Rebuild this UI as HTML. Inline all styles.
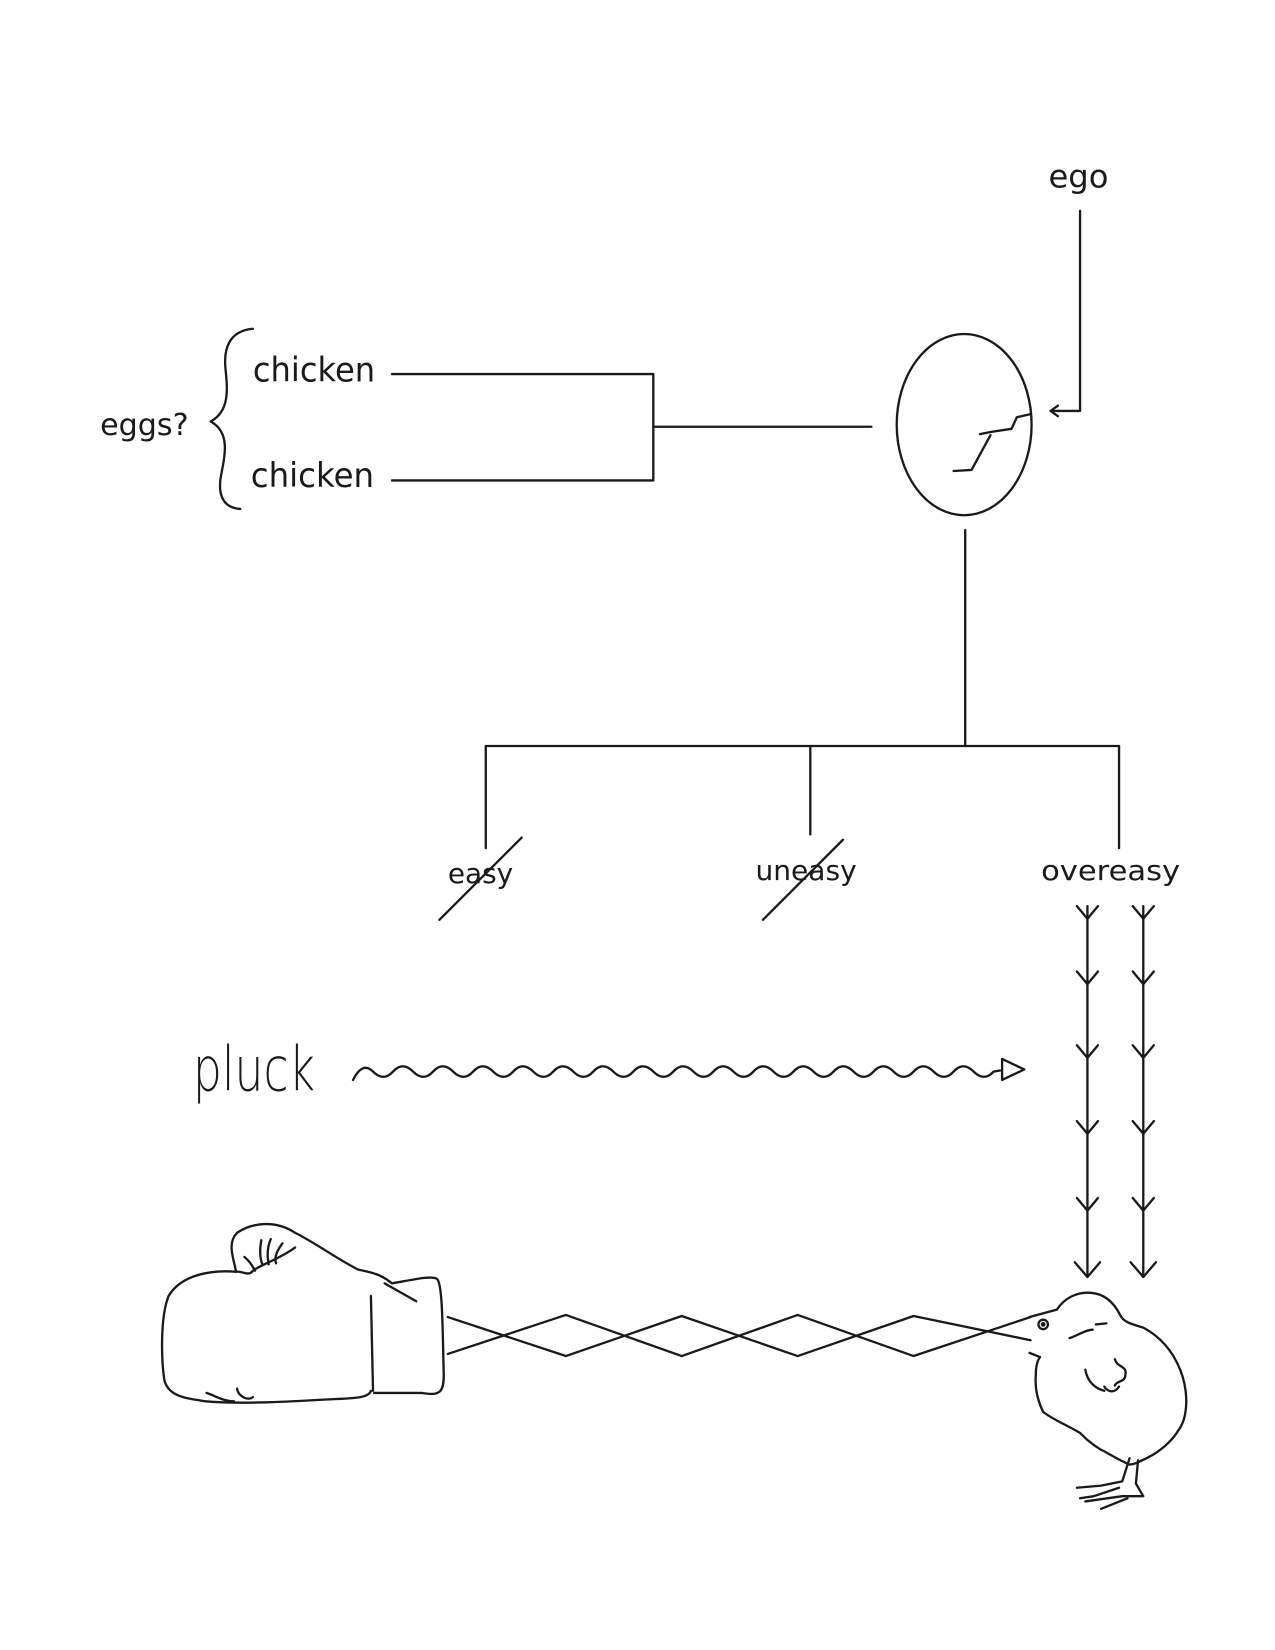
<!DOCTYPE html>
<html><head><meta charset="utf-8"><style>
html,body{margin:0;padding:0;background:#fff;width:1275px;height:1650px;overflow:hidden}
svg{display:block}
text{font-family:"DejaVu Sans","Liberation Sans",sans-serif;fill:#1a1a1a}
</style></head><body>
<svg width="1275" height="1650" viewBox="0 0 1210 1566" preserveAspectRatio="none" xmlns="http://www.w3.org/2000/svg">
<g fill="none" stroke="#1a1a1a" stroke-width="2.2" stroke-linecap="round" stroke-linejoin="round">
<polyline points="1025,200 1025,390 997,390"/>
<polyline points="1004,385 997,390 1004,395"/>
<ellipse cx="915" cy="403" rx="64" ry="86"/>
<polyline points="978,393 965,396 960,407 940,410 930,412"/>
<polyline points="940,413 922,446 905,447"/>
<line x1="827" y1="405" x2="620" y2="405"/>
<polyline points="372,355 620,355 620,456 372,456"/>
<path d="M240,312 C218,314 212,330 214,350 C216,370 218,390 200,400 C218,410 214,430 210,450 C206,470 212,482 228,483"/>
<line x1="916" y1="503" x2="916" y2="708"/>
<line x1="461" y1="708" x2="1062" y2="708"/>
<line x1="461" y1="708" x2="461" y2="805"/>
<line x1="769" y1="708" x2="769" y2="792"/>
<line x1="1062" y1="708" x2="1062" y2="805"/>
<line x1="417" y1="873" x2="495" y2="795"/>
<line x1="724" y1="873" x2="800" y2="797"/>
<line x1="1032" y1="860" x2="1032" y2="1212"/>
<line x1="1085" y1="860" x2="1085" y2="1212"/>
<g>
<polyline points="1022,860 1032,872 1042,860"/><polyline points="1075,860 1085,872 1095,860"/>
<polyline points="1022,922 1032,934 1042,922"/><polyline points="1075,922 1085,934 1095,922"/>
<polyline points="1022,992 1032,1004 1042,992"/><polyline points="1075,992 1085,1004 1095,992"/>
<polyline points="1022,1064 1032,1076 1042,1064"/><polyline points="1075,1064 1085,1076 1095,1064"/>
<polyline points="1022,1137 1032,1149 1042,1137"/><polyline points="1075,1137 1085,1149 1095,1137"/>
<polyline points="1020,1198 1032,1212 1044,1198"/><polyline points="1073,1198 1085,1212 1097,1198"/>
</g>
<path d="M335,1025 q9,-18 19,-8 t19,0 t19,0 t19,0 t19,0 t19,0 t19,0 t19,0 t19,0 t19,0 t19,0 t19,0 t19,0 t19,0 t19,0 t19,0 t19,0 t19,0 t19,0 t19,0 t19,0 t19,0 t19,0 t19,0 t19,0 t19,0 t19,0 t19,0 t19,0 t19,0 t19,0 t19,0 l6,-1"/>
<polygon points="951,1005 972,1015 951,1025"/>
<polyline points="425,1250 537,1287 647,1249 757,1287 867,1249 978,1272"/>
<polyline points="425,1285 537,1248 647,1287 757,1248 867,1287 978,1250"/>
<path d="M224,1207 C200,1205 172,1210 160,1230 C152,1250 153,1290 156,1310 C160,1325 175,1327 195,1330 C230,1333 280,1330 315,1328 C335,1327 350,1327 352,1320"/>
<path d="M224,1207 C222,1195 215,1180 225,1170 C240,1160 262,1158 280,1170 C300,1180 320,1195 340,1205 C355,1208 362,1210 372,1218 C390,1215 410,1210 415,1214 C420,1220 420,1260 421,1300 C422,1322 418,1325 400,1322 L355,1322"/>
<line x1="352" y1="1230" x2="354" y2="1320"/>
<line x1="365" y1="1218" x2="395" y2="1235"/>
<path d="M224,1207 C230,1206 236,1212 240,1206 C248,1200 265,1195 280,1184"/>
<path d="M232,1193 C237,1197 240,1202 242,1206"/><path d="M248,1177 C246,1188 247,1195 249,1200"/><path d="M257,1176 C253,1185 254,1195 255,1200"/><path d="M268,1180 C263,1187 260,1193 262,1199"/>
<path d="M196,1322 C205,1325 212,1330 222,1330"/><path d="M225,1318 C226,1325 235,1330 240,1326"/>
<path d="M977,1250 L1003,1243 C1010,1232 1022,1226 1035,1227 C1050,1228 1058,1238 1063,1248 C1066,1255 1075,1257 1085,1260 C1100,1268 1112,1280 1120,1300 C1128,1320 1128,1345 1118,1358 C1112,1368 1100,1378 1090,1383 C1080,1388 1076,1390 1072,1390 C1060,1385 1050,1378 1045,1376 C1035,1370 1030,1365 1025,1360 C1012,1352 1000,1348 990,1340 C985,1330 982,1318 983,1305 C983,1298 984,1292 987,1288 L977,1284"/>
<circle cx="990" cy="1257" r="4.5"/><circle cx="990" cy="1257" r="1.2"/>
<path d="M1015,1270 C1022,1268 1030,1262 1037,1262"/><path d="M1040,1257 L1050,1256"/>
<path d="M1030,1300 C1032,1312 1040,1318 1048,1320"/><path d="M1048,1316 C1052,1322 1058,1322 1062,1316"/><path d="M1058,1290 C1060,1298 1070,1296 1068,1305 C1068,1312 1060,1310 1058,1315"/>
<path d="M1072,1384 L1065,1406 L1045,1410 L1022,1412"/><path d="M1080,1386 L1078,1408 L1085,1420 L1065,1420 L1030,1425"/><path d="M1062,1412 L1038,1420 L1025,1422"/><path d="M1070,1422 L1050,1430 L1045,1432"/>
</g>
<text x="995" y="178" font-size="30" textLength="57" lengthAdjust="spacingAndGlyphs">ego</text>
<text x="240" y="362" font-size="32" textLength="116" lengthAdjust="spacingAndGlyphs">chicken</text>
<text x="238" y="462" font-size="32" textLength="117" lengthAdjust="spacingAndGlyphs">chicken</text>
<text x="95" y="413" font-size="29" textLength="84" lengthAdjust="spacingAndGlyphs">eggs?</text>
<text x="425" y="838" font-size="26" textLength="62" lengthAdjust="spacingAndGlyphs">easy</text>
<text x="717" y="835" font-size="26" textLength="96" lengthAdjust="spacingAndGlyphs">uneasy</text>
<text x="988" y="835" font-size="26" textLength="132" lengthAdjust="spacingAndGlyphs">overeasy</text>
<text x="183" y="1035" font-size="58" textLength="116" lengthAdjust="spacingAndGlyphs" style="font-family:'DejaVu Sans ExtraLight','DejaVu Sans',sans-serif;font-weight:200">pluck</text>
</svg>
</body></html>
